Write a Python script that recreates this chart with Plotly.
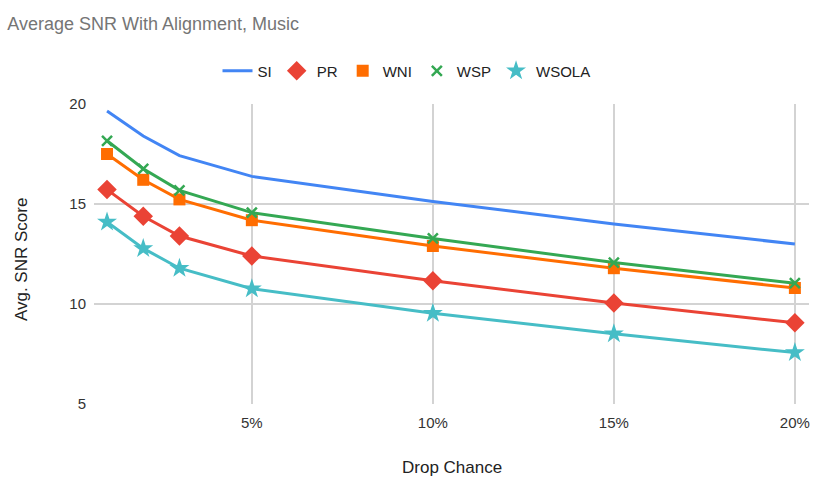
import plotly.graph_objects as go

drop_chance = [1, 2, 3, 5, 10, 15, 20]
si = [19.65, 18.4, 17.42, 16.38, 15.13, 14.0, 13.0]
pr = [15.72, 14.39, 13.4, 12.4, 11.16, 10.05, 9.06]
wni = [17.5, 16.21, 15.23, 14.19, 12.9, 11.79, 10.8]
wsp = [18.16, 16.76, 15.68, 14.57, 13.28, 12.07, 11.04]
wsola = [14.1, 12.78, 11.79, 10.76, 9.54, 8.51, 7.57]

x_ticks = [5, 10, 15, 20]
x_tick_labels = ["5%", "10%", "15%", "20%"]
y_ticks = [5, 10, 15, 20]

series = [
    ("SI", si, "#4285F4", None, 0),
    ("PR", pr, "#EA4335", "diamond", 15),
    ("WNI", wni, "#FF6D01", "square", 12),
    ("WSP", wsp, "#34A853", "x-thin-open", 10),
    ("WSOLA", wsola, "#46BDC6", "star", 15),
]

fig = go.Figure()
for name, vals, color, sym, size in series:
    if sym is None:
        fig.add_trace(go.Scatter(x=drop_chance, y=vals, name=name, mode="lines",
                                 line=dict(color=color, width=3), legendgroup=name))
    else:
        fig.add_trace(go.Scatter(x=drop_chance, y=vals, name=name, mode="lines",
                                 line=dict(color=color, width=3), legendgroup=name,
                                 showlegend=False))
        mk = dict(symbol=sym, size=size, color=color)
        if sym == "x-thin-open":
            mk["line"] = dict(color=color, width=2.5)
        fig.add_trace(go.Scatter(x=drop_chance, y=vals, name=name, mode="markers",
                                 marker=mk, legendgroup=name))

fig.update_layout(
    width=813, height=477,
    paper_bgcolor="white", plot_bgcolor="white",
    font=dict(family="Liberation Sans, Arial, sans-serif", size=15, color="#222222"),
    title=dict(text="Average SNR With Alignment, Music", x=0.009, xanchor="left",
               y=0.951, yanchor="middle",
               font=dict(size=18, color="#757575")),
    margin=dict(l=94, r=4, t=104, b=73),
    showlegend=True,
    legend=dict(orientation="h", x=0.5, xanchor="center", y=0.851, yanchor="middle",
                xref="container", yref="container",
                font=dict(size=15, color="#222222"), itemwidth=30,
                tracegroupgap=0),
    xaxis=dict(range=[0.64, 20.39], tickvals=x_ticks, ticktext=x_tick_labels,
               showgrid=True, gridcolor="#D3D3D3", gridwidth=1.5, zeroline=False,
               showline=False, ticks="", automargin=False, ticklabelstandoff=8,
               tickfont=dict(size=15, color="#333333")),
    yaxis=dict(range=[5, 20], tickvals=y_ticks,
               showgrid=True, gridcolor="#D3D3D3", gridwidth=1.5, zeroline=False,
               showline=False, ticks="", automargin=False, ticklabelstandoff=7,
               tickfont=dict(size=15, color="#333333")),
    annotations=[
        dict(text="Drop Chance", xref="paper", yref="paper", x=0.5, y=-0.21,
             xanchor="center", yanchor="middle", showarrow=False,
             font=dict(size=17, color="#222222")),
        dict(text="Avg. SNR Score", xref="paper", yref="paper", x=-0.102, y=0.48,
             xanchor="center", yanchor="middle", showarrow=False, textangle=-90,
             font=dict(size=17, color="#222222")),
    ],
)
fig.write_html("out.html", config={"displayModeBar": False},
               post_script="document.body.style.margin='0';document.body.style.overflow='hidden';")
